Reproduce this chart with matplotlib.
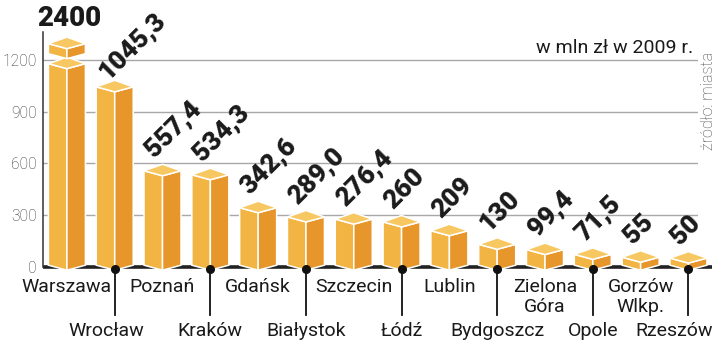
"""Budget chart: w mln zł w 2009 r. (miasta)."""
import matplotlib.pyplot as plt
from matplotlib.patches import Polygon

plt.rcParams["font.family"] = ["Roboto", "DejaVu Sans"]

# ------
# Data
cities = [
    "Warszawa", "Wrocław", "Poznań", "Kraków", "Gdańsk", "Białystok",
    "Szczecin", "Łódź", "Lublin", "Bydgoszcz", "Zielona\nGóra", "Opole",
    "Gorzów\nWlkp.", "Rzeszów",
]
values = [2400, 1045.3, 557.4, 534.3, 342.6, 289.0, 276.4, 260, 209, 130,
          99.4, 71.5, 55, 50]
value_labels = ["2400", "1045,3", "557,4", "534,3", "342,6", "289,0",
                "276,4", "260", "209", "130", "99,4", "71,5", "55", "50"]
yticks = [0, 300, 600, 900, 1200]
unit_note = "w mln zł w 2009 r."
source_note = "źródło: miasta"

# ------
# Layout (pixels of a 720x361 canvas)
W, H = 720, 361
LEFT, RIGHT, BASE, TOP = 43, 698, 266.7, 32
XLIM = (-0.5, 13.2)
YLIM = (0, 1364)
BREAK_AT = 1180            # Warszawa bar is cut here, value shown on a cap
NUDGE = {1: -8, 13: -14}   # lower-row city label shifts, px
VAL_OFFSET = (-8, 12)      # value label start, px from bar top
VAL_NUDGE = {1: (1, -5)}

FRONT = "#F2B443"
SIDE = "#E6962A"
CAP = "#F7C862"
INK = "#1a1a1a"

fig = plt.figure(figsize=(W / 100, H / 100), dpi=100)
ax = fig.add_axes([LEFT / W, 1 - BASE / H, (RIGHT - LEFT) / W, (BASE - TOP) / H])
ax.set_xlim(*XLIM)
ax.set_ylim(*YLIM)

sx = (XLIM[1] - XLIM[0]) / (RIGHT - LEFT)  # data units per px
sy = (YLIM[1] - YLIM[0]) / (BASE - TOP)

hw = 18.5 * sx     # half bar width
fd = 5 * sy        # front vertex drop
bd = 6.5 * sy      # back vertex rise


def box(c, y0, y1):
    """Pseudo-3D box, corners at y0 (bottom) and y1 (top)."""
    left = [(c - hw, y1), (c, y1 - fd), (c, y0 - fd), (c - hw, y0)]
    right = [(c, y1 - fd), (c + hw, y1), (c + hw, y0), (c, y0 - fd)]
    top = [(c - hw, y1), (c, y1 + bd), (c + hw, y1), (c, y1 - fd)]
    for pts, col in ((left, FRONT), (right, SIDE), (top, CAP)):
        ax.add_patch(Polygon(pts, closed=True, facecolor=col, edgecolor="white",
                             linewidth=1.1, zorder=3, clip_on=False))


# grid, axis, baseline
for t in yticks[1:]:
    ax.axhline(t, color="#a8a8a8", linewidth=1, zorder=1)
ax.plot([XLIM[0], XLIM[1] + 14 * sx], [0, 0], color="#222222", linewidth=2.6,
        zorder=2, clip_on=False, solid_capstyle="butt")

for s in ("top", "right", "bottom"):
    ax.spines[s].set_visible(False)
ax.spines["left"].set_color("#333333")
ax.spines["left"].set_linewidth(1.1)
ax.set_xticks([])
ax.set_yticks(yticks)
ax.set_yticklabels([str(t) for t in yticks], fontsize=11.2, color="#333333",
                   fontweight="light")
ax.tick_params(axis="y", length=0, pad=4.5)

# bars
foot = 1.5 * sy
for i, v in enumerate(values):
    if v > BREAK_AT:
        box(i, foot, BREAK_AT)
        cap_lo = BREAK_AT + 10 * sy
        cap_hi = cap_lo + 10 * sy
        box(i, cap_lo, cap_hi)
        ax.annotate(value_labels[i], (i, cap_hi + bd), xytext=(2, 11),
                    textcoords="offset pixels", ha="center", va="baseline",
                    fontsize=20, fontweight="black", color=INK)
    else:
        box(i, foot, v)
        dx, dy = VAL_NUDGE.get(i, (0, 0))
        ax.annotate(value_labels[i], (i, v),
                    xytext=(VAL_OFFSET[0] + dx, VAL_OFFSET[1] + dy),
                    textcoords="offset pixels", ha="left", va="baseline",
                    rotation=45, rotation_mode="anchor",
                    fontsize=19, fontweight="black", color=INK)

# city labels, alternating rows
for i, name in enumerate(cities):
    if i % 2 == 0:
        ax.annotate(name, (i, 0), xytext=(0, -11), textcoords="offset pixels",
                    ha="center", va="top", fontsize=14, color=INK,
                    annotation_clip=False)
    else:
        ax.plot([i, i], [-2.3 * sy, -48 * sy], color="#111111", linewidth=1.3,
                zorder=4, clip_on=False)
        ax.plot(i, -2.3 * sy, "o", ms=5.5, color="#111111", zorder=5,
                clip_on=False)
        ax.annotate(name, (i, 0), xytext=(NUDGE.get(i, 0), -55),
                    textcoords="offset pixels", ha="center", va="top",
                    fontsize=14, color=INK, annotation_clip=False)

fig.text(693 / W, 1 - 53 / H, unit_note, ha="right", va="baseline",
         fontsize=14, color=INK)
fig.text(708.5 / W, 1 - 52 / H, source_note, ha="center", va="top",
         rotation=90, fontsize=11.5, color="#444444", fontweight="light")

fig.savefig("out.png", dpi=100)
plt.close()
